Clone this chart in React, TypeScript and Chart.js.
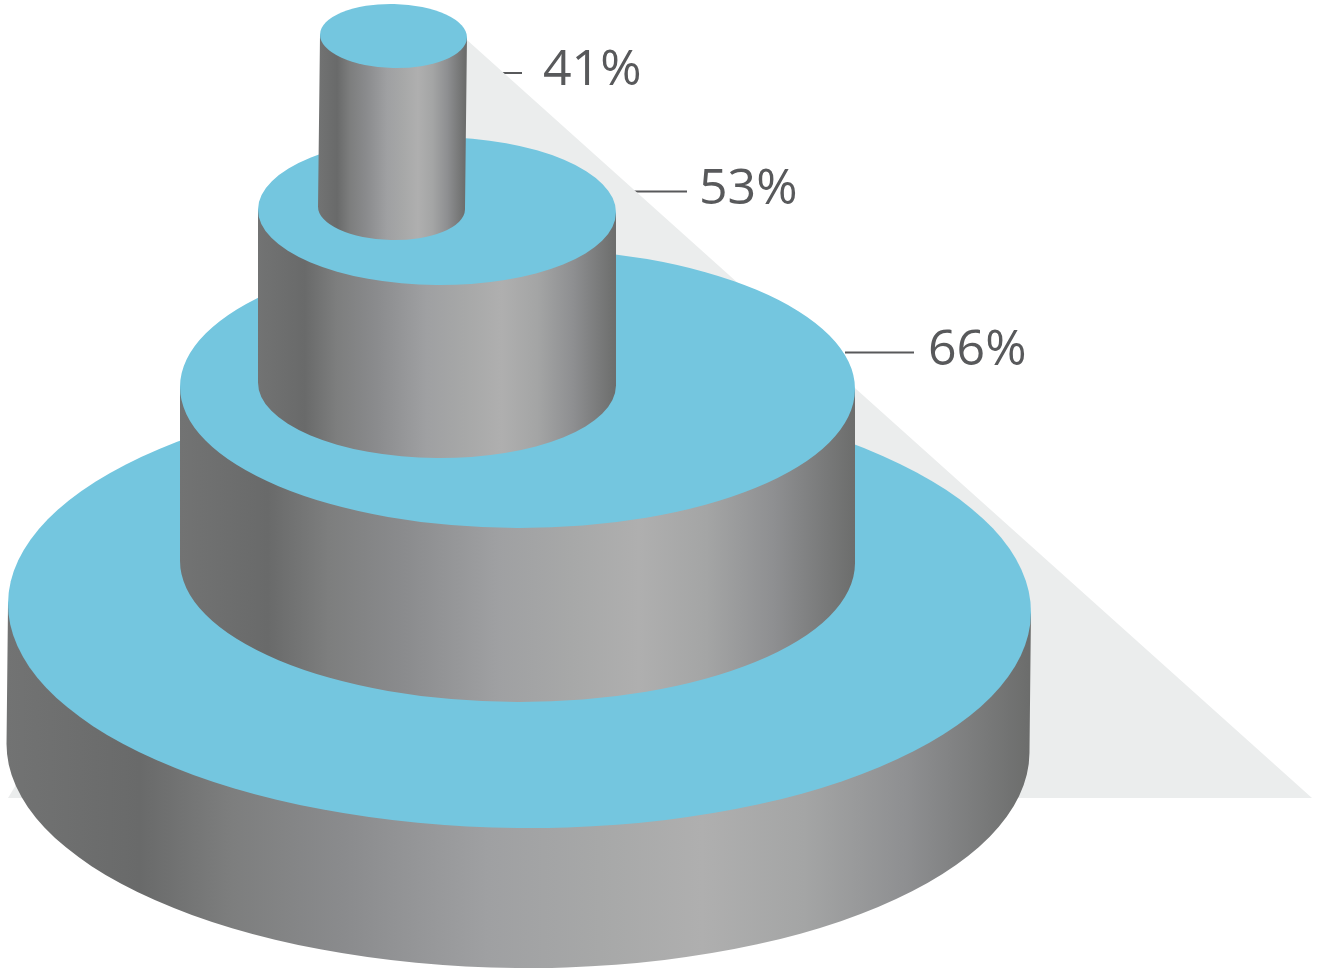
import React, { useEffect, useRef } from "react";
import { Chart, registerables } from "chart.js";

Chart.register(...registerables);

const CANVAS_WIDTH = 1322;
const CANVAS_HEIGHT = 968;

// Stacked discs, listed from the base upward, in axis units.
const tierLabels = ["", "66%", "53%", "41%"];
const tierTopX = [519.5, 517.5, 437, 393.5];
const tierTopY = [608, 388, 211, 36];
const tierBottomX = [518, 517.5, 437, 391.5];
const tierBottomY = [748, 562, 384, 208];
const tierRadiusX = [511.5, 337.5, 179, 73.5];
const tierRadiusY = [220, 140, 74, 32];
const tierTiltDegrees = [0.55, 0.2, 0.5, 1.2];

// Leader lines and the value text next to them, top disc first.
const leaderLabels = ["41%", "53%", "66%"];
const leaderStartX = [466, 610, 845];
const leaderEndX = [522, 687, 914];
const leaderY = [73, 191.5, 352.5];
const labelX = [543, 699, 928];
const labelBaseline = [85, 204, 365];

// Cast shadow behind the stack.
const shadowX = [8, 467, 1312, 8];
const shadowY = [798, 40, 798, 798];

// Cylinder wall shading, left to right.
const wallStopOffsets = [0, 0.13, 0.22, 0.33, 0.47, 0.58, 0.68, 0.78, 0.88, 1];
const wallStopColors = [
  "#727373", "#696a6a", "#7d7e7e", "#8a8b8d", "#9fa0a2",
  "#a7a8a8", "#afafaf", "#a4a5a5", "#8e8f91", "#6c6d6c",
];

const TOP_COLOR = "#74c6df";
const SHADOW_COLOR = "#ebeded";
const INK_COLOR = "#58595b";

const cylinders = {
  id: "cylinders",
  afterDatasetDraw(chart: any, args: any) {
    // Walls and lids sit above the shadow, which is dataset 0.
    if (args.index !== 0) return;
    const { ctx, scales } = chart;
    const sx = (v: number) => scales.x.getPixelForValue(v);
    const sy = (v: number) => scales.y.getPixelForValue(v);
    tierLabels.forEach((_, i) => {
      const rx = Math.abs(sx(tierRadiusX[i]) - sx(0));
      const ry = Math.abs(sy(tierRadiusY[i]) - sy(0));
      const tilt = (tierTiltDegrees[i] * Math.PI) / 180;
      const topX = sx(tierTopX[i]);
      const topY = sy(tierTopY[i]);
      const botX = sx(tierBottomX[i]);
      const botY = sy(tierBottomY[i]);
      const dx = rx * Math.cos(tilt);
      const dy = rx * Math.sin(tilt);

      const wall = ctx.createLinearGradient(botX - rx, 0, botX + rx, 0);
      wallStopOffsets.forEach((o, k) => wall.addColorStop(o, wallStopColors[k]));

      ctx.save();
      ctx.beginPath();
      ctx.moveTo(topX - dx, topY - dy);
      ctx.lineTo(botX - dx, botY - dy);
      ctx.ellipse(botX, botY, rx, ry, tilt, Math.PI, 0, true);
      ctx.lineTo(topX + dx, topY + dy);
      ctx.closePath();
      ctx.fillStyle = wall;
      ctx.fill();

      ctx.beginPath();
      ctx.ellipse(topX, topY, rx, ry, tilt, 0, Math.PI * 2);
      ctx.fillStyle = TOP_COLOR;
      ctx.fill();
      ctx.restore();
    });
  },
  afterDatasetsDraw(chart: any) {
    const { ctx, scales } = chart;
    ctx.save();
    ctx.fillStyle = INK_COLOR;
    ctx.font = '50px "Open Sans"';
    ctx.textAlign = "left";
    ctx.textBaseline = "alphabetic";
    leaderLabels.forEach((text, i) => {
      ctx.fillText(
        text,
        scales.x.getPixelForValue(labelX[i]),
        scales.y.getPixelForValue(labelBaseline[i]),
      );
    });
    ctx.restore();
  },
};

export default function App() {
  const canvasRef = useRef<HTMLCanvasElement>(null);

  useEffect(() => {
    if (!canvasRef.current) return;
    const chart = new Chart(canvasRef.current, {
      type: "scatter",
      data: {
        datasets: [
          {
            label: "shadow",
            showLine: true,
            data: shadowX.map((x, i) => ({ x, y: shadowY[i] })),
            borderWidth: 0,
            borderColor: "transparent",
            backgroundColor: SHADOW_COLOR,
            fill: "shape",
            pointRadius: 0,
            tension: 0,
          },
          ...leaderLabels.map((label, i) => ({
            label,
            showLine: true,
            data: [
              { x: leaderStartX[i], y: leaderY[i] },
              { x: leaderEndX[i], y: leaderY[i] },
            ],
            borderWidth: 2,
            borderColor: INK_COLOR,
            pointRadius: 0,
          })),
        ],
      },
      options: {
        animation: false,
        responsive: false,
        layout: { padding: 0 },
        plugins: { legend: { display: false }, tooltip: { enabled: false } },
        scales: {
          x: { type: "linear", display: false, min: 0, max: CANVAS_WIDTH },
          y: { type: "linear", display: false, min: 0, max: CANVAS_HEIGHT, reverse: true },
        },
      },
      plugins: [cylinders],
    });
    return () => chart.destroy();
  }, []);

  return (
    <div style={{ position: "absolute", left: 0, top: 0, background: "#ffffff" }}>
      <canvas
        ref={canvasRef}
        width={CANVAS_WIDTH}
        height={CANVAS_HEIGHT}
        style={{ display: "block" }}
      />
    </div>
  );
}
